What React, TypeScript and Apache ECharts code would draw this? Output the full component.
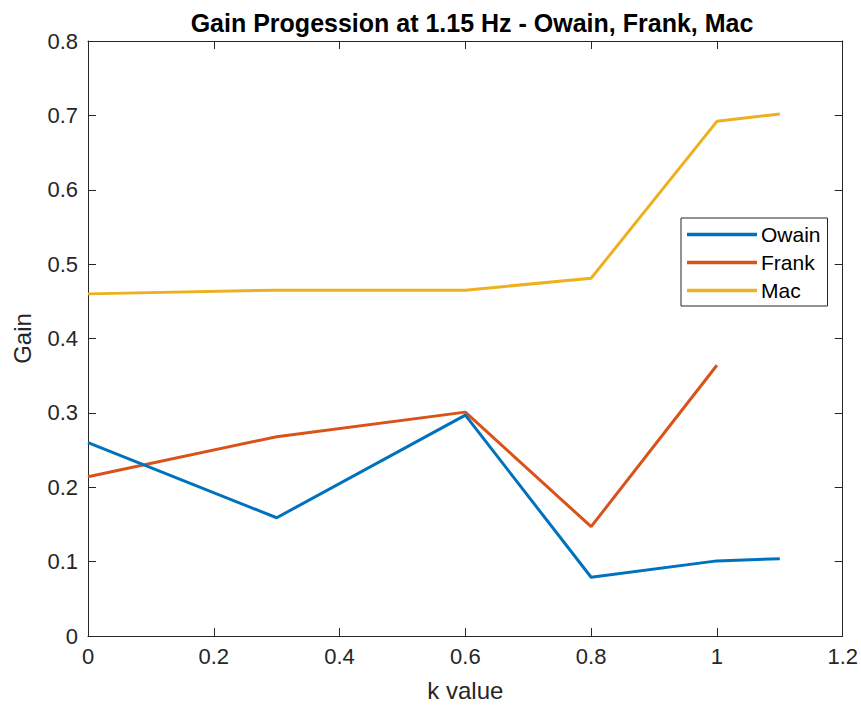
import React, { useEffect, useRef } from "react";
import * as echarts from "echarts";

const titleText = "Gain Progession at 1.15 Hz - Owain, Frank, Mac";
const seriesNames = ["Owain", "Frank", "Mac"];
const owainK = [0, 0.3, 0.6, 0.8, 1.0, 1.1];
const owainGain = [0.26, 0.159, 0.297, 0.079, 0.101, 0.104];
const frankK = [0, 0.3, 0.6, 0.8, 1.0];
const frankGain = [0.214, 0.268, 0.301, 0.147, 0.364];
const macK = [0, 0.3, 0.6, 0.8, 1.0, 1.1];
const macGain = [0.46, 0.465, 0.465, 0.481, 0.692, 0.702];
const colors = ["#0072BD", "#D95319", "#EDB120"];

const pairs = (xs: number[], ys: number[]) => xs.map((x, i) => [x, ys[i]]);

const FONT = "Liberation Sans, Arial, Helvetica, sans-serif";
const AX = "#262626";

export default function App() {
  const ref = useRef<HTMLDivElement>(null);
  useEffect(() => {
    if (!ref.current) return;
    const chart = echarts.init(ref.current, null, { renderer: "svg" });
    const tickStyle = { show: true, inside: true, length: 8, lineStyle: { color: AX, width: 1 } };
    chart.setOption({
      animation: false,
      backgroundColor: "#ffffff",
      color: colors,
      textStyle: { fontFamily: FONT },
      title: {
        text: titleText,
        left: 467,
        top: 5,
        textAlign: "center",
        textStyle: { fontFamily: FONT, fontSize: 25, fontWeight: "bold", color: "#000" },
      },
      grid: { left: 88, right: 18, top: 41, bottom: 72, show: false },
      legend: {
        data: seriesNames,
        orient: "vertical",
        left: 681,
        top: 218,
        icon: "rect",
        itemWidth: 70,
        itemHeight: 3.5,
        itemGap: 7,
        padding: [6, 7, 5, 6],
        borderColor: AX,
        borderWidth: 1,
        backgroundColor: "#fff",
        textStyle: { fontFamily: FONT, fontSize: 21, color: "#000", padding: [0, 0, 0, -1] },
      },
      xAxis: [
        {
          type: "value",
          min: 0,
          max: 1.2,
          interval: 0.2,
          name: "k value",
          nameLocation: "middle",
          nameGap: 42,
          nameTextStyle: { fontFamily: FONT, fontSize: 24, color: AX },
          axisLine: { show: true, onZero: false, lineStyle: { color: AX, width: 1 } },
          axisTick: tickStyle,
          axisLabel: { fontFamily: FONT, fontSize: 22, color: AX, margin: 9 },
          splitLine: { show: false },
        },
        {
          type: "value",
          position: "top",
          min: 0,
          max: 1.2,
          interval: 0.2,
          axisLine: { show: true, onZero: false, lineStyle: { color: AX, width: 1 } },
          axisTick: tickStyle,
          axisLabel: { show: false },
          splitLine: { show: false },
        },
      ],
      yAxis: [
        {
          type: "value",
          min: 0,
          max: 0.8,
          interval: 0.1,
          name: "Gain",
          nameLocation: "middle",
          nameGap: 54,
          nameTextStyle: { fontFamily: FONT, fontSize: 24, color: AX },
          axisLine: { show: true, onZero: false, lineStyle: { color: AX, width: 1 } },
          axisTick: tickStyle,
          axisLabel: { fontFamily: FONT, fontSize: 22, color: AX, margin: 10 },
          splitLine: { show: false },
        },
        {
          type: "value",
          position: "right",
          min: 0,
          max: 0.8,
          interval: 0.1,
          axisLine: { show: true, onZero: false, lineStyle: { color: AX, width: 1 } },
          axisTick: tickStyle,
          axisLabel: { show: false },
          splitLine: { show: false },
        },
      ],
      series: [
        { name: seriesNames[0], type: "line", data: pairs(owainK, owainGain) },
        { name: seriesNames[1], type: "line", data: pairs(frankK, frankGain) },
        { name: seriesNames[2], type: "line", data: pairs(macK, macGain) },
      ].map((s, i) => ({
        ...s,
        xAxisIndex: 0,
        yAxisIndex: 0,
        showSymbol: false,
        symbol: "none",
        lineStyle: { width: 3, color: colors[i] },
        itemStyle: { color: colors[i] },
        z: 3 - i,
      })),
    });
    return () => chart.dispose();
  }, []);
  return (
    <div
      ref={ref}
      style={{ position: "fixed", left: 0, top: 0, width: 861, height: 708 }}
    />
  );
}
